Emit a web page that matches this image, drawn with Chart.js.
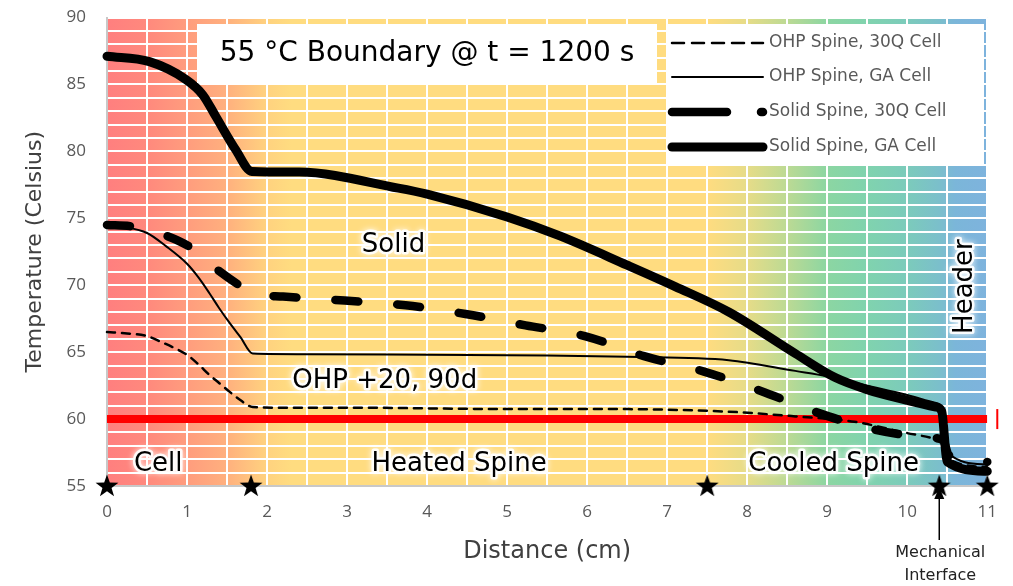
<!DOCTYPE html>
<html>
<head>
<meta charset="utf-8">
<script src="https://cdn.jsdelivr.net/npm/chart.js@4"></script>
<style>
  body { margin: 0; background: #fff; }
</style>
</head>
<body>
<canvas id="grafico" width="1013" height="586"></canvas>
<script>
// posições (cm) e temperaturas (Celsius)
const ohp30qX = [0, 0.25, 0.5, 0.7, 0.88, 1.0, 1.14, 1.28, 1.4, 1.53, 1.67, 1.82, 2.2, 3, 5, 6.24, 7.77, 8.6, 9.34, 9.96, 10.36, 10.43, 10.5, 11];
const ohp30qT = [66.5, 66.4, 66.2, 65.7, 65.2, 64.8, 64.1, 63.3, 62.7, 62.05, 61.4, 60.9, 60.85, 60.85, 60.75, 60.75, 60.55, 60.2, 59.8, 59.0, 58.5, 58.3, 57.1, 56.4];

const ohpGaX = [0, 0.25, 0.5, 0.74, 1.0, 1.14, 1.28, 1.4, 1.53, 1.67, 1.82, 2.5, 4, 5.5, 6.5, 7.77, 8.6, 9.0, 9.5, 10.0, 10.36, 10.43, 10.5, 11];
const ohpGaT = [74.4, 74.3, 73.9, 72.9, 71.6, 70.6, 69.4, 68.3, 67.2, 66.1, 64.9, 64.85, 64.8, 64.75, 64.65, 64.4, 63.6, 63.2, 62.5, 61.8, 61.2, 60.9, 57.5, 56.6];

const solid30qX = [0, 0.3, 0.74, 1.05, 1.38, 1.68, 1.85, 2.2, 2.97, 3.73, 4.48, 5.23, 5.97, 6.71, 7.46, 8.17, 8.87, 9.6, 10.3, 10.45, 10.52, 11];
const solid30qT = [74.5, 74.4, 73.7, 72.8, 71.15, 69.9, 69.35, 69.15, 68.85, 68.5, 67.85, 67.0, 66.2, 64.7, 63.55, 62.1, 60.5, 59.2, 58.6, 58.4, 57.3, 56.8];

const solidGaX = [0, 0.53, 0.99, 1.2, 1.36, 1.61, 1.81, 2.4, 3.64, 4.0, 5.0, 5.65, 6.5, 7.1, 7.77, 8.6, 9.1, 9.5, 10.0, 10.36, 10.43, 10.5, 11];
const solidGaT = [87.1, 86.7, 85.35, 84.2, 82.6, 80.1, 78.5, 78.45, 77.25, 76.8, 75.1, 73.7, 71.5, 69.9, 68.0, 64.9, 63.1, 62.2, 61.4, 60.9, 60.6, 56.8, 56.1];

const limiteX = [0, 11];
const limiteT = [60, 60];

const estrelasX = [0, 1.8, 7.5, 10.4, 11];
const estrelasT = [55, 55, 55, 55, 55];

const rotulos = ['OHP Spine, 30Q Cell', 'OHP Spine, GA Cell', 'Solid Spine, 30Q Cell', 'Solid Spine, GA Cell'];

function pares(xs, ys) {
    return xs.map((x, i) => ({ x: x, y: ys[i] }));
}

// estrela preenchida para os marcadores
const estrela = document.createElement('canvas');
estrela.width = 26; estrela.height = 26;
(function() {
    const c = estrela.getContext('2d');
    c.fillStyle = '#000';
    c.beginPath();
    for (let i = 0; i < 10; i++) {
        const r = i % 2 === 0 ? 12 : 4.8;
        const a = -Math.PI / 2 + i * Math.PI / 5;
        const px = 13 + r * Math.cos(a), py = 13.5 + r * Math.sin(a);
        if (i === 0) c.moveTo(px, py); else c.lineTo(px, py);
    }
    c.closePath();
    c.fill();
})();

const fonteTexto = '"DejaVu Sans", sans-serif';
const fonteEixo = '"Open Sans", sans-serif';

function textoBrilho(ctx, texto, x, y) {
    ctx.save();
    ctx.lineJoin = 'round';
    ctx.strokeStyle = 'rgba(255,255,255,0.9)';
    ctx.shadowColor = '#fff';
    ctx.shadowBlur = 6;
    ctx.lineWidth = 5;
    ctx.strokeText(texto, x, y);
    ctx.shadowBlur = 0;
    ctx.fillStyle = '#000';
    ctx.fillText(texto, x, y);
    ctx.restore();
}

const fundo = {
    id: 'fundo',
    beforeDraw(chart) {
        const { ctx, chartArea: a } = chart;
        const g = ctx.createLinearGradient(a.left, 0, a.right, 0);
        const p = v => v / 11;
        g.addColorStop(0, '#ff7f7f');
        g.addColorStop(p(0.5), '#ff897d');
        g.addColorStop(p(1.5), '#ffb07e');
        g.addColorStop(p(2.0), '#ffd27f');
        g.addColorStop(p(2.3), '#ffdc80');
        g.addColorStop(p(7.5), '#ffdc80');
        g.addColorStop(p(8.0), '#e6dc88');
        g.addColorStop(p(8.5), '#bcda94');
        g.addColorStop(p(9.0), '#8cd6a2');
        g.addColorStop(p(9.5), '#80d3ae');
        g.addColorStop(p(10.0), '#7ccbbb');
        g.addColorStop(p(10.4), '#7bbfcb');
        g.addColorStop(p(10.6), '#7bb6d9');
        g.addColorStop(1, '#7eb3dd');
        ctx.save();
        ctx.fillStyle = g;
        ctx.fillRect(a.left, a.top, a.right - a.left, a.bottom - a.top);
        ctx.restore();
    }
};

const anotacoes = {
    id: 'anotacoes',
    afterDraw(chart) {
        const { ctx } = chart;
        const xs = chart.scales.x, ys = chart.scales.y;
        ctx.save();

        // caixa do título
        ctx.fillStyle = '#fff';
        ctx.fillRect(197, 24, 460, 59);
        ctx.fillStyle = '#000';
        ctx.font = '28px ' + fonteTexto;
        ctx.textAlign = 'center';
        ctx.textBaseline = 'middle';
        ctx.fillText('55 °C Boundary @ t = 1200 s', 427, 54);

        // legenda
        ctx.fillStyle = '#fff';
        ctx.fillRect(668, 24, 316, 142);
        const linhasY = [43, 77, 112, 147];
        chart.data.datasets.slice(0, 4).forEach((ds, i) => {
            const y = linhasY[i];
            ctx.save();
            ctx.strokeStyle = '#000';
            ctx.lineWidth = ds.borderWidth;
            ctx.lineCap = ds.borderCapStyle || 'butt';
            ctx.setLineDash(i === 0 ? [12, 8] : (i === 2 ? [55, 34] : []));
            ctx.beginPath();
            ctx.moveTo(672, y);
            ctx.lineTo(763, y);
            ctx.stroke();
            ctx.restore();
            ctx.fillStyle = '#595959';
            ctx.font = '17px ' + fonteTexto;
            ctx.textAlign = 'left';
            ctx.textBaseline = 'middle';
            ctx.fillText(ds.label, 769, y);
        });

        // textos das regiões
        ctx.textAlign = 'center';
        ctx.textBaseline = 'middle';
        ctx.font = '26px ' + fonteTexto;
        textoBrilho(ctx, 'Solid', xs.getPixelForValue(3.58), ys.getPixelForValue(73.0));
        textoBrilho(ctx, 'OHP +20, 90d', xs.getPixelForValue(3.47), ys.getPixelForValue(62.8));
        textoBrilho(ctx, 'Cell', xs.getPixelForValue(0.64), ys.getPixelForValue(56.6));
        textoBrilho(ctx, 'Heated Spine', xs.getPixelForValue(4.4), ys.getPixelForValue(56.6));
        textoBrilho(ctx, 'Cooled Spine', xs.getPixelForValue(9.08), ys.getPixelForValue(56.6));
        ctx.save();
        ctx.translate(xs.getPixelForValue(10.72), ys.getPixelForValue(69.9));
        ctx.rotate(-Math.PI / 2);
        textoBrilho(ctx, 'Header', 0, 0);
        ctx.restore();

        // marca vermelha à direita
        const yr = ys.getPixelForValue(60);
        ctx.fillStyle = '#ff0000';
        ctx.fillRect(xs.getPixelForValue(11) + 9, yr - 10, 2, 20);

        // interface mecânica
        const xm = xs.getPixelForValue(10.4);
        ctx.strokeStyle = '#000';
        ctx.lineWidth = 1.5;
        ctx.beginPath();
        ctx.moveTo(xm, 540);
        ctx.lineTo(xm, 494);
        ctx.stroke();
        ctx.fillStyle = '#000';
        ctx.beginPath();
        ctx.moveTo(xm, 487);
        ctx.lineTo(xm - 5, 499);
        ctx.lineTo(xm + 5, 499);
        ctx.closePath();
        ctx.fill();
        ctx.fillStyle = '#222';
        ctx.font = '16px ' + fonteTexto;
        ctx.fillText('Mechanical', xm + 1, 553);
        ctx.fillText('Interface', xm + 1, 576);
        ctx.restore();
    }
};

const linha = (rot, xs, ys, largura, traco) => ({
    label: rot,
    data: pares(xs, ys),
    showLine: true,
    borderColor: '#000',
    backgroundColor: '#000',
    borderWidth: largura,
    borderDash: traco,
    borderCapStyle: 'round',
    borderJoinStyle: 'round',
    pointRadius: 0,
    cubicInterpolationMode: 'monotone',
    clip: false
});

const ctx = document.getElementById('grafico').getContext('2d');
const meuGrafico = new Chart(ctx, {
    type: 'scatter',
    data: {
        datasets: [
            linha(rotulos[0], ohp30qX, ohp30qT, 2.5, [8, 7]),
            linha(rotulos[1], ohpGaX, ohpGaT, 2, []),
            linha(rotulos[2], solid30qX, solid30qT, 8.5, [23, 39]),
            linha(rotulos[3], solidGaX, solidGaT, 9, []),
            {
                label: 'limite',
                data: pares(limiteX, limiteT),
                showLine: true,
                borderColor: '#ff0000',
                borderWidth: 8,
                pointRadius: 0,
                order: 10
            },
            {
                label: 'estrelas',
                data: pares(estrelasX, estrelasT),
                showLine: false,
                pointStyle: estrela,
                pointRadius: 12,
                clip: false,
                order: -1
            }
        ]
    },
    options: {
        responsive: false,
        animation: false,
        layout: { padding: { left: 0, right: 19, top: 17.5, bottom: 0 } },
        plugins: {
            legend: { display: false },
            tooltip: { enabled: false }
        },
        scales: {
            x: {
                type: 'linear',
                min: 0,
                max: 11,
                afterFit: s => { s.height = 100; },
                grid: { color: '#fff', lineWidth: 2, drawTicks: false },
                border: { color: '#c8c8c8', width: 2 },
                ticks: {
                    stepSize: 0.5,
                    autoSkip: false,
                    maxRotation: 0,
                    padding: 16,
                    color: '#595959',
                    font: { family: fonteEixo, size: 17 },
                    callback: v => Number.isInteger(v) ? v : ''
                },
                title: {
                    display: true,
                    text: 'Distance (cm)',
                    color: '#404040',
                    font: { family: fonteTexto, size: 24 },
                    padding: { top: 0, bottom: 20 }
                }
            },
            y: {
                min: 55,
                max: 90,
                afterFit: s => { s.width = 107; s.paddingTop = 0; s.paddingBottom = 0; },
                grid: { color: '#fff', lineWidth: 2, drawTicks: false },
                border: { color: '#c8c8c8', width: 2 },
                ticks: {
                    stepSize: 1,
                    autoSkip: false,
                    padding: 21,
                    color: '#595959',
                    font: { family: fonteEixo, size: 17 },
                    callback: v => v % 5 === 0 ? v : ''
                },
                title: {
                    display: true,
                    text: 'Temperature (Celsius)',
                    color: '#404040',
                    font: { family: fonteTexto, size: 22 },
                    padding: { top: 22, bottom: 0 }
                }
            }
        }
    },
    plugins: [fundo, anotacoes]
});
</script>
</body>
</html>
